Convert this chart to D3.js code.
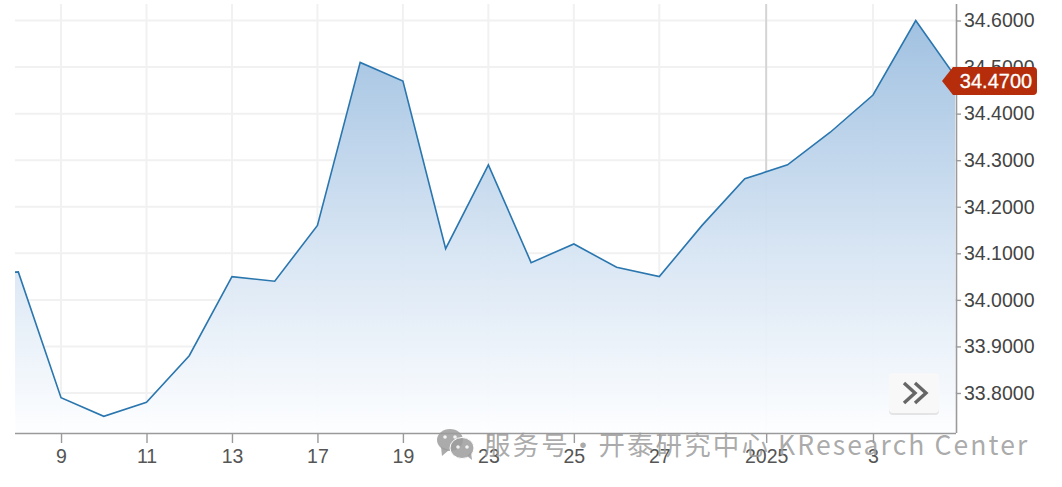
<!DOCTYPE html>
<html>
  <head>
    <meta charset="utf-8">
    <script src="https://cdnjs.cloudflare.com/ajax/libs/d3/7.8.5/d3.min.js"></script>
    <style>
      html, body { margin: 0; padding: 0; background: #fff; }
      svg { display: block; font-family: "Liberation Sans", Arial, sans-serif; }
    </style>
  </head>
  <body>
    <div id="vis"></div>
    <script type="text/javascript">
      // trading days, Dec 2024 - Jan 2025 (index -1 sits just off the left edge)
      const dayIndex = [-1, 0, 1, 2, 3, 4, 5, 6, 7, 8, 9, 10, 11, 12, 13, 14, 15, 16, 17, 18, 19, 20, 21, 22];
      const values = [34.055, 34.06, 33.79, 33.75, 33.78, 33.88, 34.05, 34.04, 34.16, 34.51, 34.47, 34.11, 34.29, 34.08, 34.12, 34.07, 34.05, 34.16, 34.26, 34.29, 34.36, 34.44, 34.60, 34.47];
      const xTickPos = [1, 3, 5, 7, 9, 11, 13, 15, 17.5, 20];
      const xTickLabels = ["9", "11", "13", "17", "19", "23", "25", "27", "2025", "3"];
      const yTicks = [33.8, 33.9, 34.0, 34.1, 34.2, 34.3, 34.4, 34.5, 34.6];
      const lastValue = 34.47;
      const watermark = "服务号·开泰研究中心 KResearch Center";

      const w = 1062;
      const h = 487;
      const plotLeft = 15;
      const plotRight = 956;
      const plotTop = 4;
      const plotBottom = 433;

      const x = d3.scaleLinear().domain([0, 20]).range([18.3, 873]);
      const y = d3.scaleLinear().domain([33.8, 34.6]).range([393, 20.5]);

      const svg = d3.select("#vis").append("svg").attr("width", w).attr("height", h);

      const grad = svg.append("defs").append("linearGradient")
        .attr("id", "areaFill")
        .attr("gradientUnits", "userSpaceOnUse")
        .attr("x1", 0).attr("x2", 0).attr("y1", y(34.6)).attr("y2", plotBottom);
      grad.append("stop").attr("offset", 0).attr("stop-color", "#9dbfe0");
      grad.append("stop").attr("offset", 0.55).attr("stop-color", "#d6e4f3");
      grad.append("stop").attr("offset", 1).attr("stop-color", "#fdfeff");

      svg.select("defs").append("clipPath").attr("id", "plotClip")
        .append("rect").attr("x", plotLeft).attr("y", plotTop)
        .attr("width", plotRight - plotLeft - 1).attr("height", plotBottom - plotTop);

      // grid
      svg.append("g").selectAll("line").data(yTicks).join("line")
        .attr("x1", plotLeft).attr("x2", plotRight)
        .attr("y1", d => y(d)).attr("y2", d => y(d))
        .attr("stroke", "#f1f1f1").attr("stroke-width", 2);
      svg.append("g").selectAll("line").data(xTickPos).join("line")
        .attr("x1", d => x(d)).attr("x2", d => x(d))
        .attr("y1", plotTop).attr("y2", plotBottom)
        .attr("stroke", d => d == 17.5 ? "#d4d4d4" : "#f1f1f1")
        .attr("stroke-width", 2);

      // area + line
      const points = dayIndex.map((d, i) => [d, values[i]]);
      const plot = svg.append("g").attr("clip-path", "url(#plotClip)");
      plot.append("path").datum(points)
        .attr("fill", "url(#areaFill)")
        .attr("fill-opacity", 0.96)
        .attr("d", d3.area().x(d => x(d[0])).y0(plotBottom).y1(d => y(d[1])));
      plot.append("path").datum(points)
        .attr("fill", "none")
        .attr("stroke", "#2a76ae")
        .attr("stroke-width", 1.6)
        .attr("stroke-linejoin", "miter")
        .attr("d", d3.line().x(d => x(d[0])).y(d => y(d[1])));

      // axes
      const xAxis = d3.axisBottom(x)
        .tickValues(xTickPos)
        .tickFormat((d, i) => xTickLabels[i])
        .tickSize(10).tickSizeOuter(0).tickPadding(6);
      const xg = svg.append("g").attr("transform", "translate(0," + plotBottom + ")").call(xAxis);
      xg.select(".domain").attr("d", "M" + plotLeft + ",0.5H" + plotRight).attr("stroke", "#9a9a9a").attr("stroke-width", 1.6);
      xg.selectAll(".tick line").attr("stroke", "#9a9a9a").attr("stroke-width", 1.4);
      xg.selectAll("text").attr("font-size", 19.5).attr("fill", "#555").attr("font-family", "Liberation Sans");

      const yAxis = d3.axisRight(y)
        .tickValues(yTicks)
        .tickFormat(d3.format(".4f"))
        .tickSize(5).tickSizeOuter(0).tickPadding(3);
      const yg = svg.append("g").attr("transform", "translate(" + plotRight + ",0)").call(yAxis);
      yg.select(".domain").attr("d", "M0.5," + plotTop + "V" + plotBottom).attr("stroke", "#9a9a9a").attr("stroke-width", 1.6);
      yg.selectAll(".tick line").attr("stroke", "#9a9a9a").attr("stroke-width", 1.4);
      yg.selectAll("text").attr("font-size", 19.5).attr("fill", "#444").attr("font-family", "Liberation Sans");

      // current value tag
      const tagY = y(lastValue);
      svg.append("path")
        .attr("d", "M942," + tagY + "L953," + (tagY - 14) + "H1033Q1037," + (tagY - 14) + " 1037," + (tagY - 10)
          + "V" + (tagY + 10) + "Q1037," + (tagY + 14) + " 1033," + (tagY + 14) + "H953Z")
        .attr("fill", "#b52d0b");
      svg.append("text")
        .attr("x", 996).attr("y", tagY + 7)
        .attr("text-anchor", "middle")
        .attr("font-size", 20).attr("font-weight", 500)
        .attr("stroke", "#fff").attr("stroke-width", 0.3)
        .attr("fill", "#fff").text(d3.format(".4f")(lastValue));

      // scroll button
      const btn = svg.append("g");
      btn.append("rect").attr("x", 889).attr("y", 374).attr("width", 50).attr("height", 40).attr("rx", 4)
        .attr("fill", "#e4e4e4").attr("transform", "translate(0,1)");
      btn.append("rect").attr("x", 889).attr("y", 373).attr("width", 50).attr("height", 40).attr("rx", 4)
        .attr("fill", "#f8f8f8");
      btn.append("path")
        .attr("d", "M904,383L915,393L904,403M915,383L926,393L915,403")
        .attr("fill", "none").attr("stroke", "#666").attr("stroke-width", 3.4);

      // watermark
      const wm = svg.append("g").attr("fill", "#9c9c9c").attr("fill-opacity", 0.85);
      wm.append("ellipse").attr("cx", 450).attr("cy", 440).attr("rx", 13).attr("ry", 11);
      wm.append("path").attr("d", "M441,447L442,456L449,450Z");
      wm.append("ellipse").attr("cx", 462).attr("cy", 448).attr("rx", 12).attr("ry", 10.5).attr("stroke", "#fff").attr("stroke-width", 1);
      wm.append("path").attr("d", "M467,456L472,460L471,452Z");
      wm.selectAll("circle").data([[445, 437], [455, 437], [458, 447], [467, 447]]).join("circle")
        .attr("cx", d => d[0]).attr("cy", d => d[1]).attr("r", 1.8).attr("fill", "#fff");
      svg.append("text")
        .attr("x", 484).attr("y", 455)
        .attr("font-family", "Noto Sans CJK SC")
        .attr("font-size", 26.5)
        .attr("letter-spacing", 2.1)
        .attr("fill", "#9c9c9c").attr("fill-opacity", 0.85)
        .text(watermark);
    </script>
  </body>
</html>
